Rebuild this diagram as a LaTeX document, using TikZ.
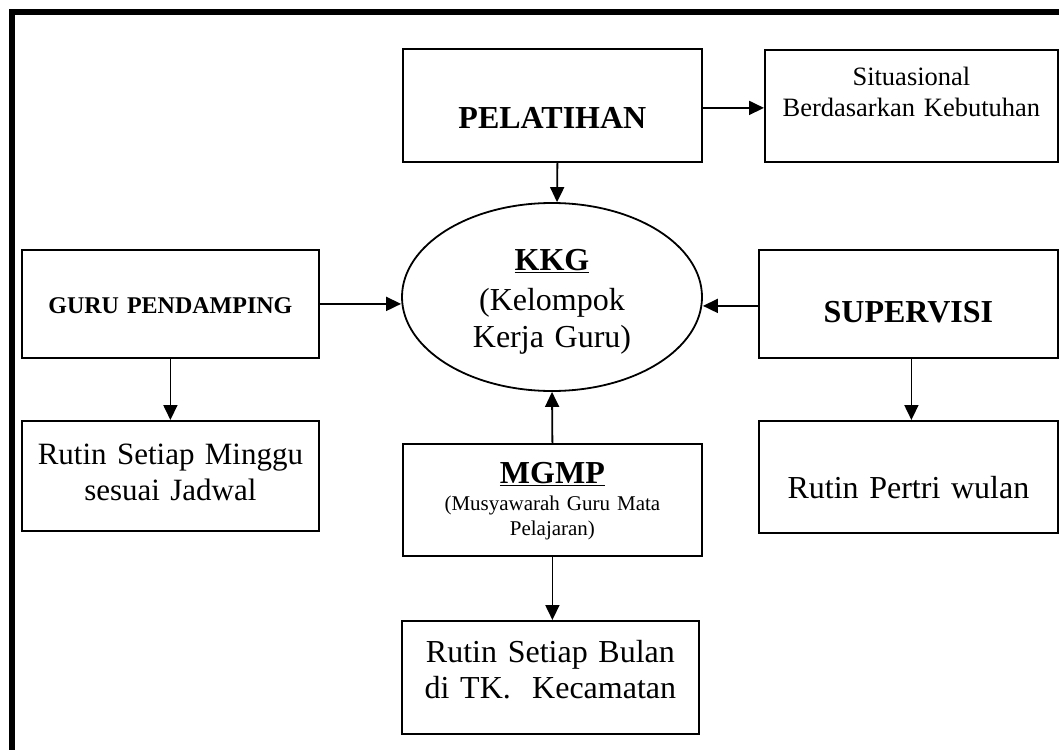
\documentclass[tikz,border=0pt]{standalone}
\usepackage{fontspec}
\setmainfont{Liberation Serif}[WordSpace={0.8,0,0}]
\usetikzlibrary{shapes.geometric,arrows.meta}
\tikzset{
  bx/.style={draw, line width=1.8pt, rectangle, inner sep=0pt, align=center, anchor=north west},
  arr/.style={line width=1.8pt, -{Triangle[length=15pt,width=14pt]}},
  bigfont/.style={font=\fontsize{32}{37}\selectfont},
  bigbold/.style={font=\fontsize{32}{37}\selectfont\bfseries},
}
\begin{document}
\begin{tikzpicture}[x=1pt,y=-1pt]
\useasboundingbox (0,0) rectangle (1059,749);
\clip (0,0) rectangle (1059,749);
% outer frame
\draw[line width=6.5pt] (1075,12) -- (12,12) -- (12,765);

\node[bx, bigbold, text width=299pt, text height=80pt, text depth=33pt] (pel) at (402,48) {PELATIHAN};
\node[bx, font=\fontsize{26.5}{30.5}\selectfont, text width=293pt, text height=36pt, text depth=76pt] (sit) at (764,49) {Situasional\\Berdasarkan Kebutuhan};
\node[bx, font=\fontsize{24}{28}\selectfont\bfseries, text width=297pt, text height=64pt, text depth=44pt] (guru) at (21,249) {GURU PENDAMPING};
\node[bx, font=\fontsize{31}{36}\selectfont, text width=297pt, text height=44pt, text depth=66pt] (mgg) at (21,420) {Rutin Setiap Minggu\\sesuai Jadwal};
\node[bx, bigbold, text width=299pt, text height=73pt, text depth=35pt] (sup) at (758,249) {SUPERVISI};
\node[bx, bigfont, text width=299pt, text height=78pt, text depth=34pt] (ptw) at (758,420) {Rutin Pertri wulan};
\node[bx, font=\fontsize{21}{25}\selectfont, text width=299pt, text height=40pt, text depth=72pt] (mgmp) at (402,443) {{\fontsize{32}{37}\selectfont\bfseries\underline{MGMP}}\\[2pt](Musyawarah Guru Mata\\Pelajaran)};
\node[bx, font=\fontsize{32}{35.5}\selectfont, text width=297pt, text height=42pt, text depth=71pt] (bln) at (401,620) {Rutin Setiap Bulan\\di TK.\ \ Kecamatan};

\node[ellipse, draw, line width=1.8pt, inner sep=0pt, minimum width=300pt, minimum height=188pt, text width=170pt, align=center, text height=20pt, text depth=74pt, bigfont] (kkg) at (552,297) {{\bfseries\underline{KKG}}\\[3pt](Kelompok\\Kerja Guru)};

\draw[arr] ([xshift=5pt]pel.south) -- ([xshift=5pt]kkg.north);
\draw[arr] ([yshift=-2.5pt]pel.east) -- ([yshift=-2.5pt]pel.east -| sit.west);
\draw[arr] (guru.east) -- (guru.east -| kkg.west);
\draw[arr] ([yshift=-2pt]sup.west) -- ([yshift=-2pt]sup.west -| kkg.east);
\draw[arr] (guru.south) -- (mgg.north);
\draw[arr] ([xshift=3pt]sup.south) -- ([xshift=3pt]ptw.north);
\draw[arr] (mgmp.north) -- (kkg.south);
\draw[arr] (mgmp.south) -- (mgmp.south |- bln.north);
\end{tikzpicture}
\end{document}
